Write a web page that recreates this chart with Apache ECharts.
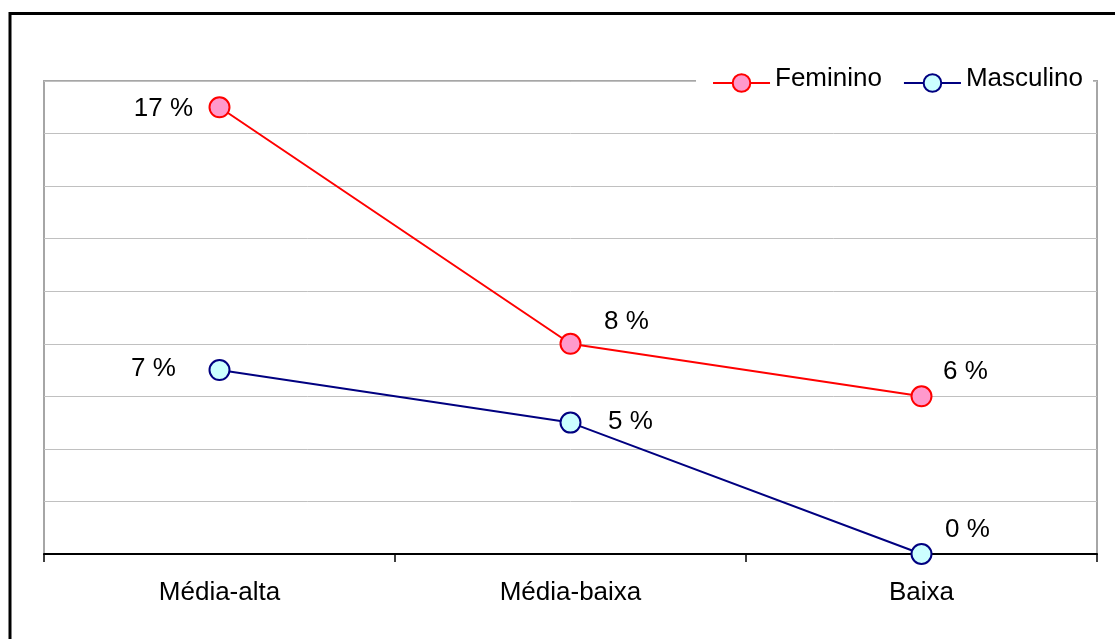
<!DOCTYPE html>
<html>
<head>
<meta charset="utf-8">
<script src="https://cdn.jsdelivr.net/npm/echarts@6/dist/echarts.min.js"></script>
<style>
  html, body { margin: 0; padding: 0; background: #fff; }
  #chart { width: 1115px; height: 639px; }
</style>
</head>
<body>
<div id="chart"></div>
<script>
// Categories and series values (percent)
const categories = ['Média-alta', 'Média-baixa', 'Baixa'];
const feminino = [17, 8, 6];
const masculino = [7, 5, 0];
const yMin = 0, yMax = 18, yStep = 2;

// Value-label placement relative to each marker centre, in px
const femLabelOffset = [[-56, 2], [56, -22], [44, -25]];
const mascLabelOffset = [[-66, -1], [60, -1], [46, -24]];

const FONT = "'Liberation Sans', Arial, sans-serif";

function pointsWithLabels(values, offsets) {
  return values.map((v, i) => ({ value: v, label: { offset: offsets[i] } }));
}

const labelStyle = {
  show: true,
  position: 'inside',
  formatter: p => p.value + ' %',
  color: '#000',
  fontFamily: FONT,
  fontSize: 26
};

const chart = echarts.init(document.getElementById('chart'), null, { renderer: 'canvas' });

chart.setOption({
  animation: false,
  backgroundColor: '#fff',
  graphic: [{
    type: 'rect',
    z: 100,
    silent: true,
    shape: { x: 10, y: 13.5, width: 1200, height: 700 },
    style: { fill: 'none', stroke: '#000', lineWidth: 3 }
  }],
  grid: {
    left: 44, top: 81, width: 1053, height: 473,
    show: true, borderColor: '#a6a6a6', borderWidth: 2,
    containLabel: false
  },
  legend: {
    right: 1115 - 1093,
    top: 64,
    backgroundColor: '#fff',
    padding: [2, 10, 2, 16],
    itemWidth: 57,
    itemHeight: 22,
    itemGap: 21,
    z: 10,
    formatter: name => '{t|' + name + '}',
    textStyle: {
      color: '#000', fontFamily: FONT, fontSize: 26,
      rich: { t: { color: '#000', fontFamily: FONT, fontSize: 26, padding: [0, 0, 8, 0] } }
    },
    data: ['Feminino', 'Masculino']
  },
  xAxis: {
    type: 'category',
    data: categories,
    boundaryGap: true,
    axisLine: { show: true, lineStyle: { color: '#000', width: 2 } },
    axisTick: { show: true, length: 8, alignWithLabel: false, lineStyle: { color: '#000', width: 1.5 } },
    axisLabel: { color: '#000', fontFamily: FONT, fontSize: 26, margin: 26 },
    splitLine: { show: false }
  },
  yAxis: {
    type: 'value',
    min: yMin, max: yMax, interval: yStep,
    axisLine: { show: false },
    axisTick: { show: false },
    axisLabel: { show: false },
    splitLine: { show: true, lineStyle: { color: '#c0c0c0', width: 1 } }
  },
  series: [
    {
      name: 'Feminino',
      type: 'line',
      data: pointsWithLabels(feminino, femLabelOffset),
      symbol: 'circle',
      symbolSize: 20,
      lineStyle: { color: '#ff0000', width: 2 },
      itemStyle: { color: '#ff99cc', borderColor: '#ff0000', borderWidth: 2 },
      label: labelStyle,
      z: 3
    },
    {
      name: 'Masculino',
      type: 'line',
      data: pointsWithLabels(masculino, mascLabelOffset),
      symbol: 'circle',
      symbolSize: 20,
      lineStyle: { color: '#000080', width: 2 },
      itemStyle: { color: '#ccffff', borderColor: '#000080', borderWidth: 2 },
      label: labelStyle,
      z: 3
    }
  ]
});
</script>
</body>
</html>
